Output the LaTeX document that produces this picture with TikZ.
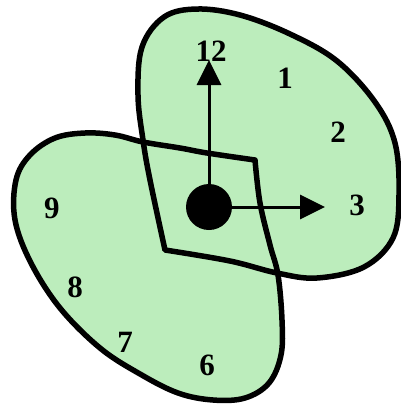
\documentclass[tikz,border=0pt]{standalone}
\usepackage{fontspec}
\setmainfont{Liberation Serif}
\usetikzlibrary{arrows.meta, positioning}
\definecolor{lobeGreen}{HTML}{BCEDBC}

\begin{document}
\begin{tikzpicture}[
  x=1pt, y=-1pt,
  lobe/.style={fill=lobeGreen},
  rim/.style={draw, line width=5.5pt, line join=round},
  hand/.style={line width=3pt, -{Triangle[length=25pt, width=24pt]}},
  numeral/.style={font=\fontsize{31}{31}\selectfont\bfseries, inner sep=0pt},
]
  \useasboundingbox (0,0) rectangle (401,405);

  % the two lobes, filled first
  \def\upperlobe{plot[smooth, tension=0.6] coordinates {
    (165,250) (150,180) (143,140) (138,95) (142,47) (164,17) (197,9)
    (240,15) (290,34) (337,61) (375,102) (395,143) (399,195) (393,238)
    (364,267) (317,278) (277,273) (230,261) (165,250)} -- cycle}
  \def\lowerlobe{plot[smooth, tension=0.6] coordinates {
    (255,160) (260,203) (270,245) (278,275) (282,320) (281,355) (269,383)
    (245,398) (213,400) (178,393) (140,374) (100,348) (60,308) (31,263)
    (15,220) (16,180) (30,155) (55,138) (85,133) (115,135) (143,142)
    (180,148) (207,153) (255,160)} -- cycle}
  \path[lobe] \lowerlobe;
  \path[lobe] \upperlobe;
  \path[rim] \lowerlobe;
  \path[rim] \upperlobe;

  % hands
  \node[circle, fill=black, minimum size=46pt, inner sep=0pt] (hub) at (209,207) {};
  \coordinate (tipUp) at (209,60);
  \coordinate (tipRight) at (325,207);
  \draw[hand] (hub.center) -- (tipUp);
  \draw[hand] (hub.center) -- (tipRight);

  % numerals
  \node[numeral] (n12) at (211,51) {12};
  \node[numeral] (n1) at (285,78) {1};
  \node[numeral] (n2) at (338,132) {2};
  \node[numeral] (n3) at (357,205) {3};
  \node[numeral] (n9) at (52,208) {9};
  \node[numeral] (n8) at (75,287) {8};
  \node[numeral] (n7) at (125,342) {7};
  \node[numeral] (n6) at (207,365) {6};
\end{tikzpicture}
\end{document}
